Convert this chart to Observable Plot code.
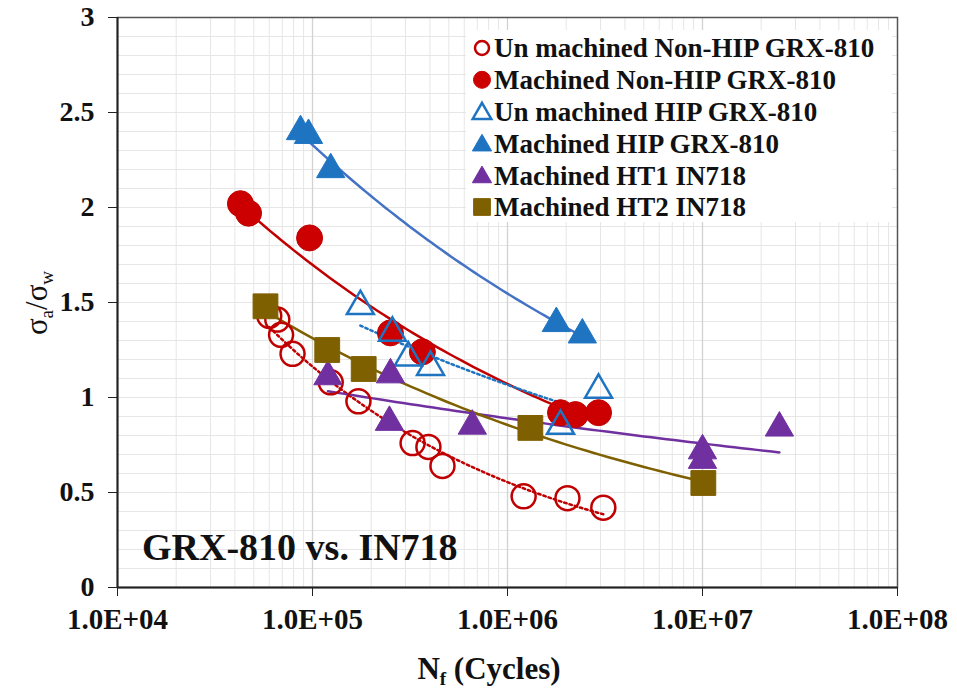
<!DOCTYPE html>
<html><head><meta charset="utf-8">
<script src="https://cdn.jsdelivr.net/npm/d3@7"></script>
<script src="https://cdn.jsdelivr.net/npm/@observablehq/plot@0.6"></script>
<style>body{margin:0;background:#fff} #chart{width:957px;height:688px}</style>
</head><body><div id="chart"></div>
<script>
// ---- data ----
const seriesNames = [
  "Un machined Non-HIP GRX-810",
  "Machined Non-HIP GRX-810",
  "Un machined HIP GRX-810",
  "Machined HIP GRX-810",
  "Machined HT1 IN718",
  "Machined HT2 IN718"
];
const unNonHipN = [6.0e4, 6.6e4, 6.9e4, 7.9e4, 1.24e5, 1.72e5, 3.26e5, 3.93e5, 4.64e5, 1.21e6, 2.03e6, 3.1e6];
const unNonHipS = [1.43, 1.41, 1.33, 1.23, 1.08, 0.98, 0.76, 0.74, 0.64, 0.48, 0.47, 0.42];
const maNonHipN = [4.27e4, 4.7e4, 9.66e4, 2.51e5, 3.66e5, 1.87e6, 2.23e6, 2.93e6];
const maNonHipS = [2.02, 1.97, 1.84, 1.34, 1.24, 0.92, 0.91, 0.92];
const unHipN = [1.76e5, 2.57e5, 3.1e5, 4.03e5, 1.87e6, 2.93e6];
const unHipS = [1.48, 1.34, 1.21, 1.16, 0.85, 1.04];
const maHipN = [8.68e4, 9.54e4, 1.24e5, 1.78e6, 2.42e6];
const maHipS = [2.40, 2.38, 2.20, 1.39, 1.33];
const ht1N = [1.2e5, 2.51e5, 2.48e5, 6.6e5, 1.0e7, 1.0e7, 2.48e7];
const ht1S = [1.11, 1.12, 0.87, 0.85, 0.72, 0.67, 0.84];
const ht2N = [5.74e4, 1.19e5, 1.83e5, 1.31e6, 1.01e7];
const ht2S = [1.48, 1.25, 1.15, 0.84, 0.55];

const xTicks = [1e4, 1e5, 1e6, 1e7, 1e8];
const yTicks = [0, 0.5, 1, 1.5, 2, 2.5, 3];

// ---- styles ----
const RED = "#C00000", RED_F = "#CC0000", BLUE = "#1F74C2", BLUE_L = "#4472C4",
      PURPLE = "#7030A0", BROWN = "#7F6000";
const FONT = "\"Liberation Serif\", \"Times New Roman\", Tinos, Times, \"DejaVu Serif\", serif";

const toRows = (N, S) => N.map((n, i) => ({n, s: S[i]}));
const d0 = toRows(unNonHipN, unNonHipS), d1 = toRows(maNonHipN, maNonHipS),
      d2 = toRows(unHipN, unHipS), d3r = toRows(maHipN, maHipS),
      d4 = toRows(ht1N, ht1S), d5 = toRows(ht2N, ht2S);

// power-law trendline (as Excel does), fitted from the data
function powerTrend(N, S) {
  const lx = N.map(Math.log), ly = S.map(Math.log);
  const mx = d3.mean(lx), my = d3.mean(ly);
  const b = d3.sum(lx, (v, i) => (v - mx) * (ly[i] - my)) / d3.sum(lx, v => (v - mx) ** 2);
  const a = Math.exp(my - b * mx);
  const [lo, hi] = d3.extent(N);
  return d3.range(0, 61).map(i => {
    const n = Math.exp(Math.log(lo) + (Math.log(hi) - Math.log(lo)) * i / 60);
    return {n, s: a * Math.pow(n, b)};
  });
}

const minorX = [];
for (let e = 4; e < 8; e++) for (let k = 2; k <= 9; k++) minorX.push(k * 10 ** e);
const minorY = d3.range(1, 30).map(i => i / 10);

const chart = Plot.plot({
  width: 957, height: 688,
  marginLeft: 117, marginRight: 60, marginTop: 17, marginBottom: 101,
  style: {fontFamily: FONT, background: "#fff", color: "#111"},
  x: {type: "log", domain: [1e4, 1e8]},
  y: {domain: [0, 3]},
  marks: [
    Plot.ruleX(minorX, {stroke: "#e6e6e6", strokeWidth: 1}),
    Plot.ruleY(minorY, {stroke: "#e6e6e6", strokeWidth: 1}),
    Plot.ruleX(xTicks.slice(1, 4), {stroke: "#d2d2d2", strokeWidth: 1.3}),
    Plot.line(powerTrend(unNonHipN, unNonHipS), {x: "n", y: "s", stroke: RED, strokeWidth: 2.5, strokeDasharray: "2.5,3"}),
    Plot.line(powerTrend(maNonHipN, maNonHipS), {x: "n", y: "s", stroke: RED, strokeWidth: 2.5}),
    Plot.line(powerTrend(unHipN, unHipS), {x: "n", y: "s", stroke: BLUE, strokeWidth: 2.5, strokeDasharray: "2.5,3"}),
    Plot.line(powerTrend(maHipN, maHipS), {x: "n", y: "s", stroke: BLUE_L, strokeWidth: 2.5}),
    Plot.line(powerTrend(ht1N, ht1S), {x: "n", y: "s", stroke: PURPLE, strokeWidth: 2.5}),
    Plot.line(powerTrend(ht2N, ht2S), {x: "n", y: "s", stroke: BROWN, strokeWidth: 2.5}),
    Plot.dot(d0, {x: "n", y: "s", r: 12, stroke: RED, strokeWidth: 2.5, fill: "none"}),
    Plot.dot(d1, {x: "n", y: "s", r: 13, fill: RED_F, stroke: RED, strokeWidth: 1}),
    Plot.dot(d2, {x: "n", y: "s", symbol: "triangle", r: 10, stroke: BLUE, strokeWidth: 2.5, fill: "none"}),
    Plot.dot(d3r, {x: "n", y: "s", symbol: "triangle", r: 10.5, fill: BLUE, stroke: BLUE, strokeWidth: 1}),
    Plot.dot(d4, {x: "n", y: "s", symbol: "triangle", r: 10.5, fill: PURPLE, stroke: PURPLE, strokeWidth: 1}),
    Plot.dot(d5, {x: "n", y: "s", symbol: "square", r: 14, fill: BROWN, stroke: BROWN, strokeWidth: 1}),
    Plot.frame({stroke: "#555", strokeWidth: 1.5}),
    Plot.ruleX([1e4], {stroke: "#222", strokeWidth: 2}),
    Plot.ruleY([0], {stroke: "#222", strokeWidth: 2}),
    Plot.axisX({ticks: xTicks, tickFormat: d => "1.0E+0" + Math.round(Math.log10(d)), tickSize: 9, tickPadding: 12,
      fontSize: 29, fontWeight: "bold", fontFamily: FONT, label: null, stroke: "#222"}),
    Plot.axisY({ticks: yTicks, tickFormat: d => String(d), tickSize: 9, tickPadding: 14,
      fontSize: 28, fontWeight: "bold", fontFamily: FONT, label: null, stroke: "#222"}),
  ]
});
document.getElementById("chart").appendChild(chart);

const svg = d3.select(chart);
// annotation
svg.append("text").attr("x", 142).attr("y", 560).attr("text-anchor", "start").style("font-family", FONT)
  .attr("font-size", 38).attr("font-weight", "bold").attr("fill", "#111").text("GRX-810 vs. IN718");

// x label
const xl = svg.append("text").attr("x", 489).attr("y", 679).attr("text-anchor", "middle")
  .style("font-family", FONT).attr("font-size", 31).attr("font-weight", 600).attr("fill", "#111");
xl.append("tspan").text("N");
xl.append("tspan").attr("font-size", 19).attr("dy", 6).text("f");
xl.append("tspan").attr("dy", -6).text(" (Cycles)");

// y label
const yl = svg.append("text").attr("transform", "translate(47,303) rotate(-90)").attr("text-anchor", "middle")
  .style("font-family", FONT).attr("font-size", 31).attr("fill", "#111");
yl.append("tspan").text("σ");
yl.append("tspan").attr("font-size", 19).attr("dy", 6).text("a");
yl.append("tspan").attr("dy", -6).text("/σ");
yl.append("tspan").attr("font-size", 19).attr("dy", 6).text("w");

// legend
const lg = svg.append("g");
lg.append("rect").attr("x", 466).attr("y", 30).attr("width", 426).attr("height", 192).attr("fill", "#fff");
const legendStyles = [
  {sym: d3.symbolCircle, size: Math.PI * 7 * 7, fill: "none", stroke: RED, sw: 2.5},
  {sym: d3.symbolCircle, size: Math.PI * 8.5 * 8.5, fill: RED_F, stroke: RED_F, sw: 1},
  {sym: d3.symbolTriangle, size: 150, fill: "none", stroke: BLUE, sw: 2.5},
  {sym: d3.symbolTriangle, size: 160, fill: BLUE, stroke: BLUE, sw: 1},
  {sym: d3.symbolTriangle, size: 160, fill: PURPLE, stroke: PURPLE, sw: 1},
  {sym: d3.symbolSquare, size: 280, fill: BROWN, stroke: BROWN, sw: 1},
];
seriesNames.forEach((name, i) => {
  const cy = 48 + i * 31.8;
  const st = legendStyles[i];
  lg.append("path").attr("d", d3.symbol(st.sym, st.size)())
    .attr("transform", `translate(482,${cy + (st.sym === d3.symbolTriangle ? 2 : 0)})`)
    .attr("fill", st.fill).attr("stroke", st.stroke).attr("stroke-width", st.sw);
  lg.append("text").attr("x", 494).attr("y", cy).attr("dy", "0.35em").attr("text-anchor", "start")
    .style("font-family", FONT).attr("font-size", 27).attr("font-weight", "bold")
    .attr("fill", "#111").text(name);
});
</script></body></html>
